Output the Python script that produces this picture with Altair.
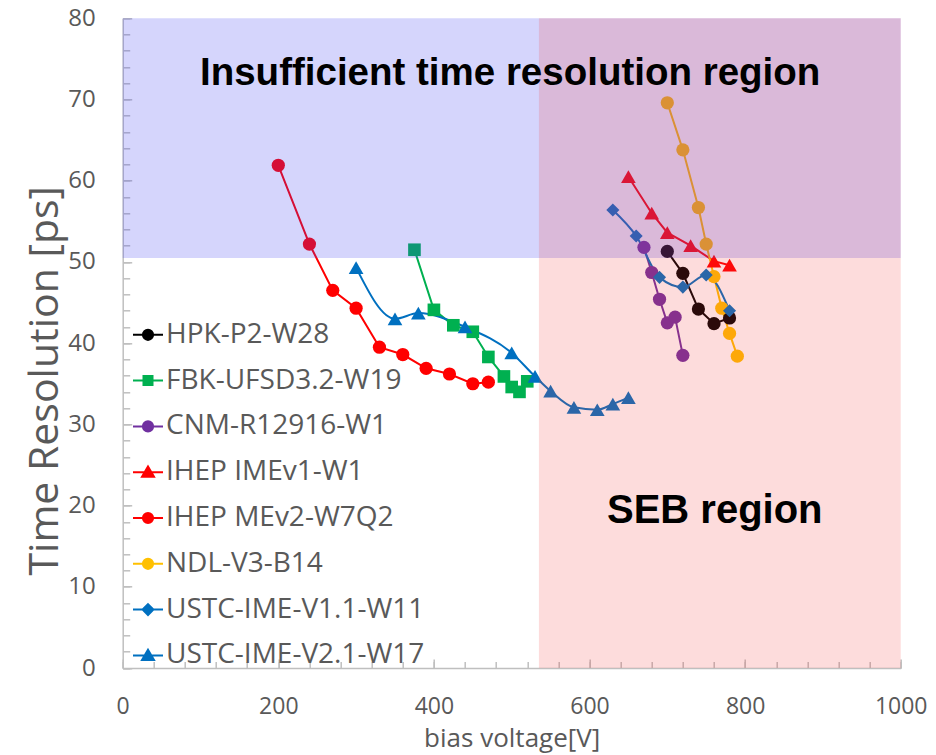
import altair as alt
import pandas as pd

# ---------------- data ----------------
series_names = ["HPK-P2-W28", "FBK-UFSD3.2-W19", "CNM-R12916-W1", "IHEP IMEv1-W1",
                "IHEP MEv2-W7Q2", "NDL-V3-B14", "USTC-IME-V1.1-W11", "USTC-IME-V2.1-W17"]

hpk_v = [700, 720, 740, 760, 780]
hpk_t = [51.3, 48.6, 44.2, 42.4, 43.1]
fbk_v = [375, 400, 425, 450, 470, 490, 500, 510, 520]
fbk_t = [51.5, 44.1, 42.2, 41.4, 38.3, 35.9, 34.6, 34.0, 35.3]
cnm_v = [670, 680, 690, 700, 710, 720]
cnm_t = [51.8, 48.7, 45.4, 42.5, 43.2, 38.5]
ime1_v = [650, 680, 700, 730, 760, 780]
ime1_t = [60.5, 56.0, 53.6, 52.0, 50.1, 49.6]
mev2_v = [200, 240, 270, 300, 330, 360, 390, 420, 450, 470]
mev2_t = [61.9, 52.2, 46.5, 44.3, 39.5, 38.6, 36.9, 36.2, 35.0, 35.2]
ndl_v = [700, 720, 740, 750, 760, 770, 780, 790]
ndl_t = [69.6, 63.8, 56.7, 52.2, 48.2, 44.3, 41.2, 38.4]
u11_v = [630, 660, 690, 720, 750, 780]
u11_t = [56.4, 53.2, 48.1, 46.9, 48.4, 44.0]
u21_v = [300, 350, 380, 440, 500, 530, 550, 580, 610, 630, 650]
u21_t = [49.3, 43.0, 43.7, 42.0, 38.8, 35.9, 34.1, 32.1, 31.8, 32.5, 33.3]

all_v = [hpk_v, fbk_v, cnm_v, ime1_v, mev2_v, ndl_v, u11_v, u21_v]
all_t = [hpk_t, fbk_t, cnm_t, ime1_t, mev2_t, ndl_t, u11_t, u21_t]

x_ticks = [0, 200, 400, 600, 800, 1000]
y_ticks = [0, 10, 20, 30, 40, 50, 60, 70, 80]
x_minor = list(range(0, 1001, 40))
y_minor = list(range(0, 81, 2))

# shaded regions
reg_x = [0, 535]
reg_x2 = [1000, 1000]
reg_y = [50.5, 0]
reg_y2 = [80, 80]

# annotations
ann_text = ["Insufficient time resolution region", "SEB region"]
ann_v = [498, 761]
ann_t = [71.75, 17.85]

# ---------------- styles ----------------
series_colors = ["#000000", "#00b050", "#7030a0", "#ff0000",
                 "#ff0000", "#ffc000", "#0070c0", "#0070c0"]
CIRC = ("M-1,0H1M0.34,0C0.34,0.188,0.188,0.34,0,0.34C-0.188,0.34,-0.34,0.188,-0.34,0"
        "C-0.34,-0.188,-0.188,-0.34,0,-0.34C0.188,-0.34,0.34,-0.188,0.34,0Z")
SQR = "M-1,0H1M-0.3,-0.3H0.3V0.3H-0.3Z"
TRI = "M-1,0H1M0,-0.38L0.4,0.3L-0.4,0.3Z"
DIA = "M-1,0H1M0,-0.36L0.36,0L0,0.36L-0.36,0Z"
legend_paths = [CIRC, SQR, CIRC, TRI, CIRC, CIRC, DIA, TRI]

circle_series = ["HPK-P2-W28", "CNM-R12916-W1", "IHEP MEv2-W7Q2", "NDL-V3-B14"]
square_series = ["FBK-UFSD3.2-W19"]
triangle_series = ["IHEP IMEv1-W1", "USTC-IME-V2.1-W17"]
diamond_series = ["USTC-IME-V1.1-W11"]
smooth_series = ["USTC-IME-V1.1-W11", "USTC-IME-V2.1-W17"]
linear_series = [s for s in series_names if s not in smooth_series]

reg_colors = ["#4343f1", "#f43939"]
reg_opac = [0.224, 0.175]
ann_sizes = [38.5, 40]

GREY = "#595959"
AXC = "#bfbfbf"
FONT = "Open Sans"

# ---------------- tables ----------------
color_of = dict(zip(series_names, series_colors))
rows = []
for name, vs, ts in zip(series_names, all_v, all_t):
    for v, t in zip(vs, ts):
        rows.append({"series": name, "v": v, "t": t, "col": color_of[name]})
df = pd.DataFrame(rows)

reg_df = pd.DataFrame({"x": reg_x, "x2": reg_x2, "y": reg_y, "y2": reg_y2,
                       "c": reg_colors, "o": reg_opac})
ann_df = pd.DataFrame({"label": ann_text, "v": ann_v, "t": ann_t, "s": ann_sizes})

xs = alt.Scale(domain=[0, 1000], nice=False, zero=False)
ys = alt.Scale(domain=[0, 80], nice=False, zero=False)

main_x = alt.Axis(orient="bottom", values=x_ticks, format="d", title="bias voltage[V]",
                  titleFont=FONT, titleFontSize=26, titleColor=GREY, titleFontWeight="normal",
                  titleBaseline="alphabetic", titleY=78,
                  labelFont=FONT, labelFontSize=23, labelColor=GREY, labelPadding=27,
                  labelFlush=False, labelOverlap=False,
                  ticks=False, tickSize=0, domainColor=AXC, domainWidth=1.5, grid=False)
main_y = alt.Axis(orient="left", values=y_ticks, title="Time Resolution [ps]",
                  titleFont=FONT, titleFontSize=41, titleColor=GREY, titleFontWeight="normal",
                  titleAngle=270, titleBaseline="alphabetic", titleX=-65.7, titleY=362,
                  labelFont=FONT, labelFontSize=24, labelColor=GREY, labelPadding=27.5,
                  labelFlush=False, labelOverlap=False,
                  ticks=False, tickSize=0, domainColor=AXC, domainWidth=1.5, grid=False)


def tick_axis(orient, vals, size):
    return alt.Axis(orient=orient, values=vals, labels=False, domain=False, ticks=True,
                    tickSize=size, offset=-size, tickColor=AXC, tickWidth=1.5,
                    title=None, grid=False)


x_major_ax = tick_axis("bottom", x_ticks, 9)
y_major_ax = tick_axis("left", y_ticks, 9)
x_minor_ax = tick_axis("bottom", x_minor, 6.5)
y_minor_ax = tick_axis("left", y_minor, 7)


def enc_xy(xa, ya):
    return dict(x=alt.X("v:Q", scale=xs, axis=xa), y=alt.Y("t:Q", scale=ys, axis=ya))


base = alt.Chart(df)
col = alt.Color("col:N", scale=None)

lines_lin = base.transform_filter(
    alt.FieldOneOfPredicate(field="series", oneOf=linear_series)
).mark_line(strokeWidth=2).encode(**enc_xy(main_x, main_y), color=col, detail="series:N")

lines_smooth = base.transform_filter(
    alt.FieldOneOfPredicate(field="series", oneOf=smooth_series)
).mark_line(strokeWidth=2, interpolate="monotone").encode(
    **enc_xy(x_major_ax, y_major_ax), color=col, detail="series:N")

point_layers = []
for i, (shape, members, size) in enumerate([("circle", circle_series, 175),
                                             ("square", square_series, 160),
                                             ("triangle-up", triangle_series, 215),
                                             ("diamond", diamond_series, 170)]):
    xa = x_minor_ax if i == 0 else None
    ya = y_minor_ax if i == 0 else None
    point_layers.append(
        base.transform_filter(alt.FieldOneOfPredicate(field="series", oneOf=members))
        .mark_point(filled=True, shape=shape, size=size, opacity=1, strokeWidth=0)
        .encode(**enc_xy(xa, ya), color=col)
    )

regions = alt.Chart(reg_df).mark_rect().encode(
    x=alt.X("x:Q", scale=xs, axis=None), x2="x2:Q",
    y=alt.Y("y:Q", scale=ys, axis=None), y2="y2:Q",
    color=alt.Color("c:N", scale=None),
    opacity=alt.Opacity("o:Q", scale=None),
)

annotations = alt.Chart(ann_df).mark_text(
    font="Liberation Sans", fontWeight="bold", align="center", baseline="alphabetic",
    color="#000000"
).encode(
    x=alt.X("v:Q", scale=xs, axis=None), y=alt.Y("t:Q", scale=ys, axis=None),
    text="label:N", size=alt.Size("s:Q", scale=None),
)

leg = alt.Legend(title=None, orient="none", legendX=9.3, legendY=300.5, direction="vertical",
                 columns=1, labelFont=FONT, labelFontSize=28, labelColor=GREY, labelLimit=500,
                 symbolSize=900, symbolStrokeWidth=2, rowPadding=15.8, labelOffset=2, padding=0,
                 symbolOpacity=1)

legend_layer = base.transform_filter("false").mark_point(
    filled=True, size=900, strokeWidth=2, opacity=1
).encode(
    x=alt.X("v:Q", scale=xs, axis=None), y=alt.Y("t:Q", scale=ys, axis=None),
    color=alt.Color("series:N", scale=alt.Scale(domain=series_names, range=series_colors), legend=leg),
    stroke=alt.Stroke("series:N", scale=alt.Scale(domain=series_names, range=series_colors), legend=leg),
    shape=alt.Shape("series:N", scale=alt.Scale(domain=series_names, range=legend_paths), legend=leg),
)

chart = alt.layer(
    lines_lin, lines_smooth, *point_layers, regions, annotations, legend_layer
).resolve_axis(x="independent", y="independent").properties(
    width=778, height=649.7,
    autosize=alt.AutoSizeParams(type="none"),
    padding={"left": 114.7, "top": 10.3, "right": 27.3, "bottom": 85},
).configure_view(stroke=None)

chart.save("out.html", embed_options={"renderer": "svg", "actions": False})
